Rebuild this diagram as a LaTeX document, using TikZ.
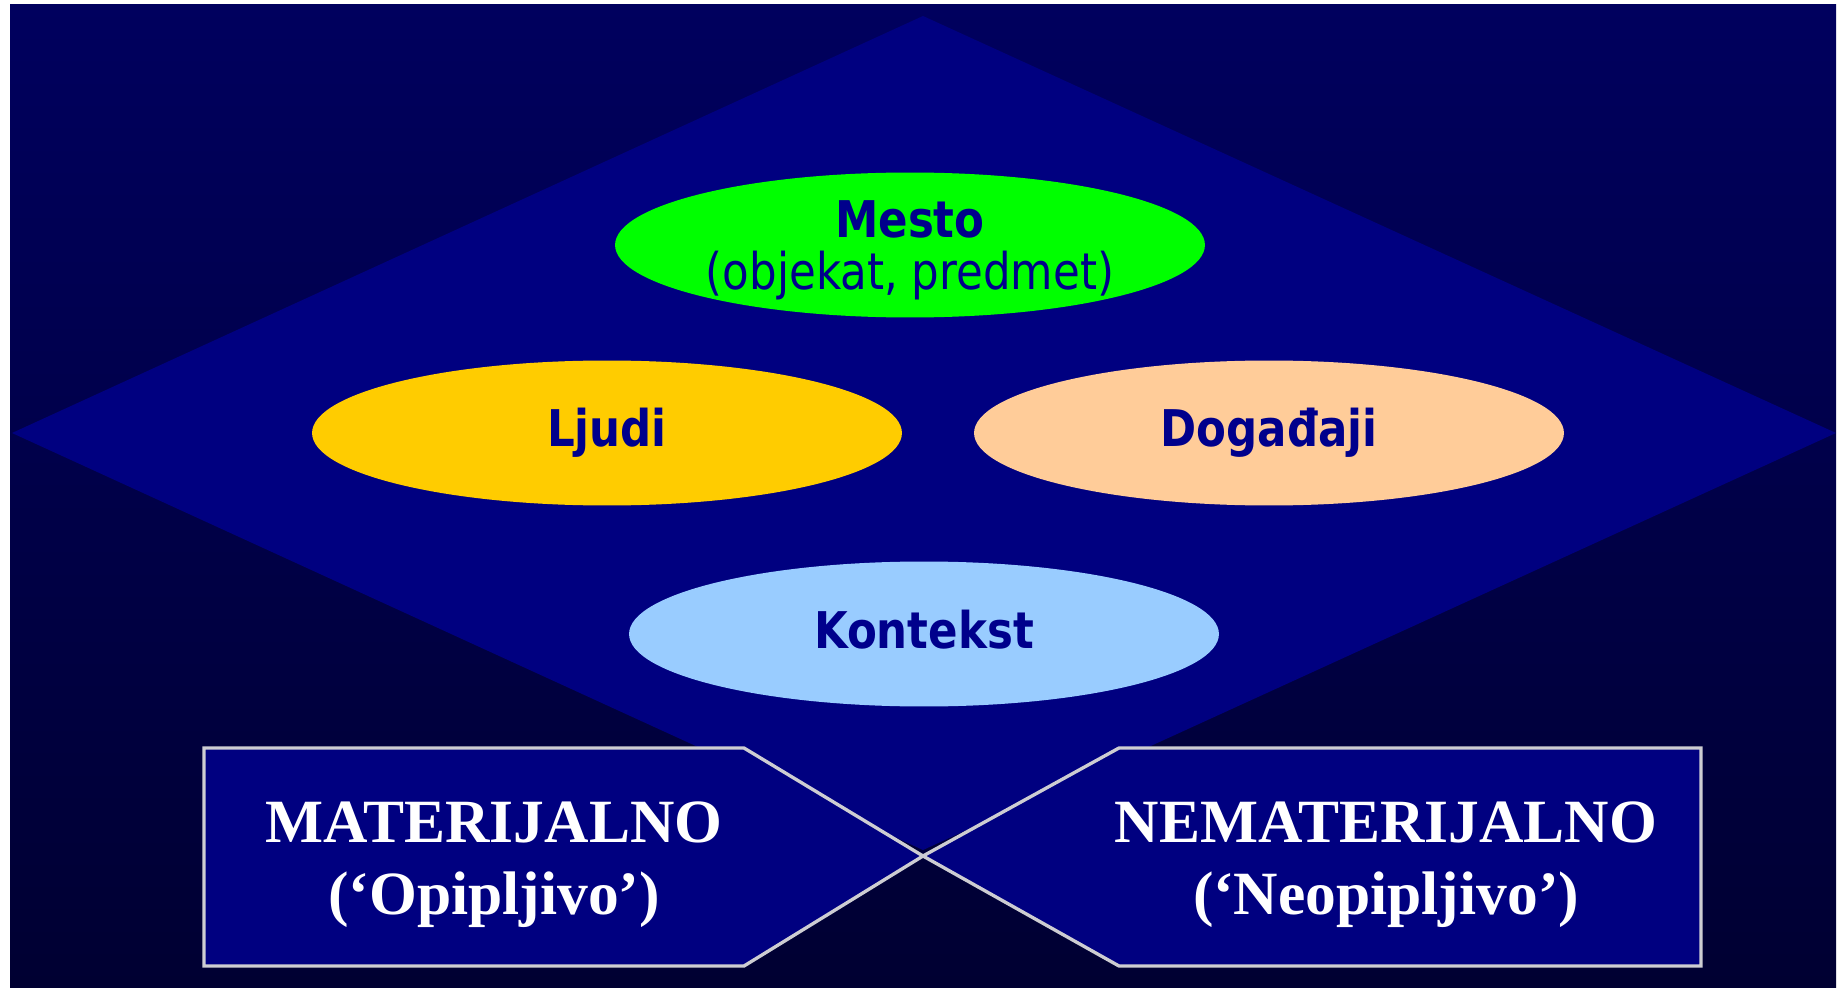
\documentclass[tikz,border=0pt]{standalone}
\usepackage{fontspec}
\newfontfamily\ovalfont{DejaVu Sans}[FakeStretch=0.86]
\newfontfamily\tabfont{Liberation Serif}
\usetikzlibrary{shapes, calc, positioning}

\definecolor{bgtop}{RGB}{0,0,94}
\definecolor{bgbottom}{RGB}{0,0,50}
\definecolor{navyfill}{RGB}{0,0,128}
\definecolor{ovaltext}{RGB}{0,0,140}
\definecolor{mestogreen}{RGB}{0,255,0}
\definecolor{ljudigold}{RGB}{255,204,0}
\definecolor{dogpeach}{RGB}{255,204,153}
\definecolor{konblue}{RGB}{153,204,255}
\definecolor{tabedge}{RGB}{205,205,210}

\begin{document}
\begin{tikzpicture}[x=0.02cm, y=-0.02cm,
    ovaltype/.style={text=ovaltext, align=center, font=\ovalfont\fontsize{28.8}{29.5}\selectfont\bfseries},
    oval/.style={ovaltype, ellipse, minimum width=11.8cm, minimum height=2.9cm, inner sep=0pt},
    tabbox/.style={fill=navyfill, draw=tabedge, line width=1.9pt},
    tablabel/.style={text=white, align=center, font=\tabfont\fontsize{35}{41}\selectfont\bfseries}]

\useasboundingbox (0,0) rectangle (1837,993);
\shade[top color=bgtop, bottom color=bgbottom] (10,5) rectangle (1836,987);

% diamond
\fill[navyfill] (12,433) coordinate (dleft) -- (923,16) coordinate (dtop)
    -- (1836,433) coordinate (dright) -- (923,850) coordinate (dbottom) -- cycle;

\node[oval, fill=mestogreen] (mesto) at (910,245) {};
\node[ovaltype] (mestolabel) at (910,250) {Mesto\\{\mdseries (objekat, predmet)}};
\node[oval, fill=ljudigold] (ljudi) at (607,433) {Ljudi};
\node[oval, fill=dogpeach] (dogadjaji) at (1269,433) {Događaji};
\node[oval, fill=konblue] (kontekst) at (924,634) {};
\node[ovaltype] (kontekstlabel) at (924,630) {Kontekst};

% bottom tabs
\coordinate (cross) at (923,856);
\draw[tabbox] (204,748) -- (744,748) -- (cross) -- (744,966) -- (204,966) -- cycle;
\draw[tabbox] (1701,748) -- (1119,748) -- (cross) -- (1119,966) -- (1701,966) -- cycle;

\node[tablabel] (mat) at (494,865) {MATERIJALNO\\(‘Opipljivo’)};
\node[tablabel] (nemat) at (1386,865) {NEMATERIJALNO\\(‘Neopipljivo’)};

\end{tikzpicture}
\end{document}
